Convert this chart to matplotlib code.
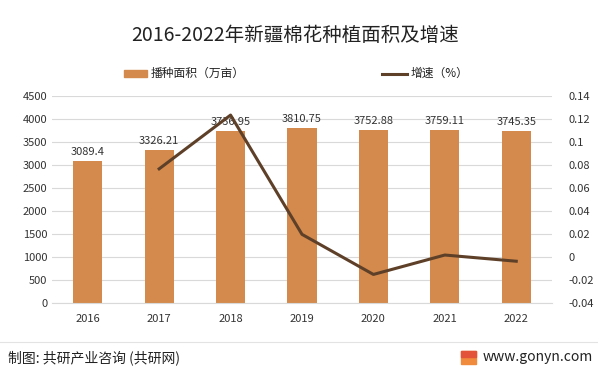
import matplotlib.pyplot as plt
from matplotlib.patches import Rectangle
from matplotlib.lines import Line2D

plt.rcParams['font.family'] = ['Noto Sans CJK SC', 'DejaVu Sans']

years = ['2016', '2017', '2018', '2019', '2020', '2021', '2022']
area = [3089.4, 3326.21, 3736.95, 3810.75, 3752.88, 3759.11, 3745.35]
growth_years = ['2017', '2018', '2019', '2020', '2021', '2022']
growth = [0.0767, 0.1235, 0.0197, -0.0152, 0.0017, -0.0037]

bar_color = '#D38A4C'
line_color = '#5E4029'

fig = plt.figure(figsize=(5.98, 3.74), dpi=100)
ax = fig.add_axes([0.087, 0.19, 0.836, 0.553])
x = list(range(len(years)))
ax.bar(x, area, width=0.41, color=bar_color, zorder=2)
for xi, v in zip(x, area):
    ax.text(xi, v + 90, f'{v:g}', ha='center', va='bottom', fontsize=8, color='#333333', zorder=4)
ax.set_ylim(0, 4500)
ax.set_yticks(range(0, 4501, 500))
ax.set_xlim(-0.5, len(years) - 0.5)
ax.set_xticks(x)
ax.set_xticklabels(years)
ax.grid(axis='y', color='#D9D9D9', linewidth=0.8, zorder=0)
for s in ['top', 'right', 'left']:
    ax.spines[s].set_visible(False)
ax.spines['bottom'].set_color('#D9D9D9')
ax.tick_params(axis='both', length=0, labelsize=8, colors='#333333')
ax.tick_params(axis='x', pad=8)

ax2 = ax.twinx()
gx = [years.index(y) for y in growth_years]
ax2.plot(gx, growth, color=line_color, linewidth=2.2, zorder=3)
ax2.set_ylim(-0.04, 0.14)
ax2.set_yticks([-0.04, -0.02, 0, 0.02, 0.04, 0.06, 0.08, 0.1, 0.12, 0.14])
ax2.set_yticklabels(['-0.04', '-0.02', '0', '0.02', '0.04', '0.06', '0.08', '0.1', '0.12', '0.14'])
for s in ['top', 'right', 'left', 'bottom']:
    ax2.spines[s].set_visible(False)
ax2.tick_params(axis='y', length=0, labelsize=8, colors='#333333', pad=12)

fig.text(0.493, 0.905, '2016-2022年新疆棉花种植面积及增速', ha='center', va='center', fontsize=14, color='#222222')

# legend
fig.patches.append(Rectangle((0.207, 0.795), 0.039, 0.017, transform=fig.transFigure, color=bar_color, figure=fig))
fig.text(0.252, 0.803, '播种面积（万亩）', ha='left', va='center', fontsize=8.5, color='#222222')
fig.lines.append(Line2D([0.638, 0.681], [0.803, 0.803], transform=fig.transFigure, color=line_color, linewidth=2.2))
fig.text(0.687, 0.803, '增速（%）', ha='left', va='center', fontsize=8.5, color='#222222')

# footer
fig.lines.append(Line2D([0.0, 1.0], [0.086, 0.086], transform=fig.transFigure, color='#E3E3E3', linewidth=0.8))
fig.text(0.013, 0.043, '制图: 共研产业咨询 (共研网)', ha='left', va='center', fontsize=10, fontweight='medium', color='#222222')
fig.patches.append(Rectangle((0.771, 0.028), 0.025, 0.034, transform=fig.transFigure, color='#F08A3C', figure=fig))
fig.patches.append(Rectangle((0.771, 0.045), 0.025, 0.017, transform=fig.transFigure, color='#E2533A', figure=fig))
fig.text(0.992, 0.045, 'www.gonyn.com', ha='right', va='center', fontsize=10, color='#222222')

fig.savefig('out.png', dpi=100, facecolor='white')
